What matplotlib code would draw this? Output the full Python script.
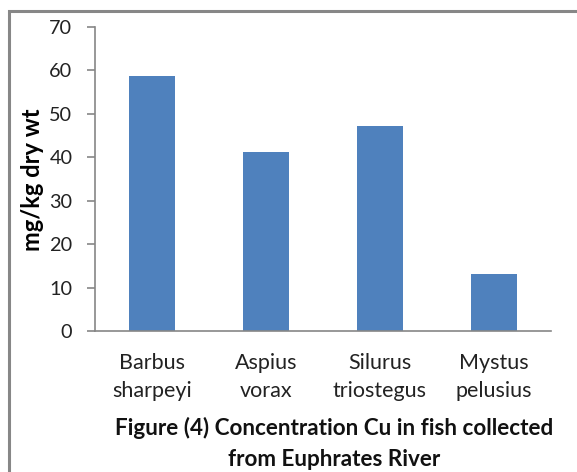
import matplotlib
matplotlib.use("Agg")
import matplotlib.pyplot as plt
from matplotlib.patches import Rectangle

# Cu concentration in fish (mg/kg dry wt)
species = ["Barbus\nsharpeyi", "Aspius\nvorax", "Silurus\ntriostegus", "Mystus\npelusius"]
cu_values = [58.7, 41.2, 47.2, 13.2]
y_ticks = [0, 10, 20, 30, 40, 50, 60, 70]
caption = ["Figure (4) Concentration Cu in fish collected", "from Euphrates River"]

plt.rcParams['font.family'] = ['Lato', 'DejaVu Sans']

fig = plt.figure(figsize=(5.77, 4.72), dpi=100)
ax = fig.add_axes([0.1646, 0.2987, 0.7903, 0.6447])

ax.bar(range(len(species)), cu_values, width=0.4, color="#4F81BD")

ax.set_xlim(-0.5, len(species) - 0.5)
ax.set_ylim(0, 70)
ax.set_yticks(y_ticks)
ax.set_xticks(range(len(species)))
ax.set_xticklabels(species, fontsize=15.5, color="#222222", linespacing=1.5)
ax.tick_params(axis="x", length=0, pad=16)
ax.tick_params(axis="y", length=5.8, width=1.2, color="#868686",
               labelsize=14.3, labelcolor="#222222", pad=10.5)

for s in ["top", "right"]:
    ax.spines[s].set_visible(False)
for s in ["left", "bottom"]:
    ax.spines[s].set_color("#868686")
    ax.spines[s].set_linewidth(1.2)

fig.text(32 / 577, 1 - 180 / 472, "mg/kg dry wt", rotation=90, ha="center", va="center",
         fontsize=17, fontweight="bold", color="#000000")

# caption, one line at a time so baselines sit where the reference has them
for line, base in zip(caption, [435, 466]):
    fig.text(334 / 577, 1 - base / 472, line, ha="center", va="baseline",
             fontsize=16.2, fontweight="bold", color="#111111")

# outer chart border (cropped on right and bottom)
fig.patches.append(Rectangle((9 / 577, -0.05), 1.0, 1 - 11 / 472 + 0.05,
                             transform=fig.transFigure, fill=False,
                             edgecolor="#878787", linewidth=2.2))

fig.savefig("out.png", dpi=100)
